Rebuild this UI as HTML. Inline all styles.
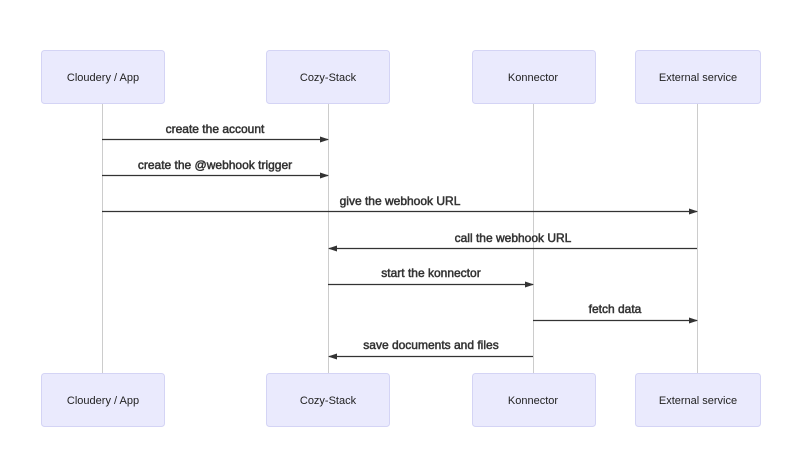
<!DOCTYPE html>
<html><head><style>html,body{margin:0;padding:0;background:#fff}svg{display:block}</style></head>
<body>
<svg width="800" height="469" xmlns="http://www.w3.org/2000/svg" font-family="Liberation Sans, Arial, sans-serif">
<defs><marker id="a" markerWidth="9" markerHeight="6" refX="8" refY="3" orient="auto" markerUnits="userSpaceOnUse"><path d="M0,0 L9,3 L0,6 z" fill="#333"/></marker></defs>
<g stroke="#ccc" stroke-width="1">
<line x1="102.5" y1="103" x2="102.5" y2="373"/>
<line x1="328.5" y1="103" x2="328.5" y2="373"/>
<line x1="533.5" y1="103" x2="533.5" y2="373"/>
<line x1="697.5" y1="103" x2="697.5" y2="373"/>
</g>
<g fill="#eaeafd" stroke="#d4d4f5">
<rect x="41.5" y="50.5" width="123" height="53" rx="3"/>
<rect x="266.5" y="50.5" width="123" height="53" rx="3"/>
<rect x="472.5" y="50.5" width="123" height="53" rx="3"/>
<rect x="635.5" y="50.5" width="125" height="53" rx="3"/>
<rect x="41.5" y="373.5" width="123" height="53" rx="3"/>
<rect x="266.5" y="373.5" width="123" height="53" rx="3"/>
<rect x="472.5" y="373.5" width="123" height="53" rx="3"/>
<rect x="635.5" y="373.5" width="125" height="53" rx="3"/>
</g>
<g font-size="11" fill="#222" text-anchor="middle">
<text x="103" y="81">Cloudery / App</text><text x="328" y="81">Cozy-Stack</text><text x="533" y="81">Konnector</text><text x="698" y="81">External service</text>
<text x="103" y="404">Cloudery / App</text><text x="328" y="404">Cozy-Stack</text><text x="533" y="404">Konnector</text><text x="698" y="404">External service</text>
</g>
<g stroke="#333" stroke-width="1.3" marker-end="url(#a)">
<line x1="102" y1="139.5" x2="328" y2="139.5"/>
<line x1="102" y1="175.5" x2="328" y2="175.5"/>
<line x1="102" y1="211.5" x2="697" y2="211.5"/>
<line x1="697" y1="248.5" x2="329" y2="248.5"/>
<line x1="328" y1="284.5" x2="533" y2="284.5"/>
<line x1="533" y1="320.5" x2="697" y2="320.5"/>
<line x1="533" y1="356.5" x2="329" y2="356.5"/>
</g>
<g font-size="12" fill="#333" text-anchor="middle" stroke="#333" stroke-width="0.5">
<text x="215" y="133">create the account</text>
<text x="215" y="169">create the @webhook trigger</text>
<text x="400" y="205">give the webhook URL</text>
<text x="513" y="242">call the webhook URL</text>
<text x="431" y="277">start the konnector</text>
<text x="615" y="313">fetch data</text>
<text x="431" y="349">save documents and files</text>
</g>
</svg>
</body></html>
